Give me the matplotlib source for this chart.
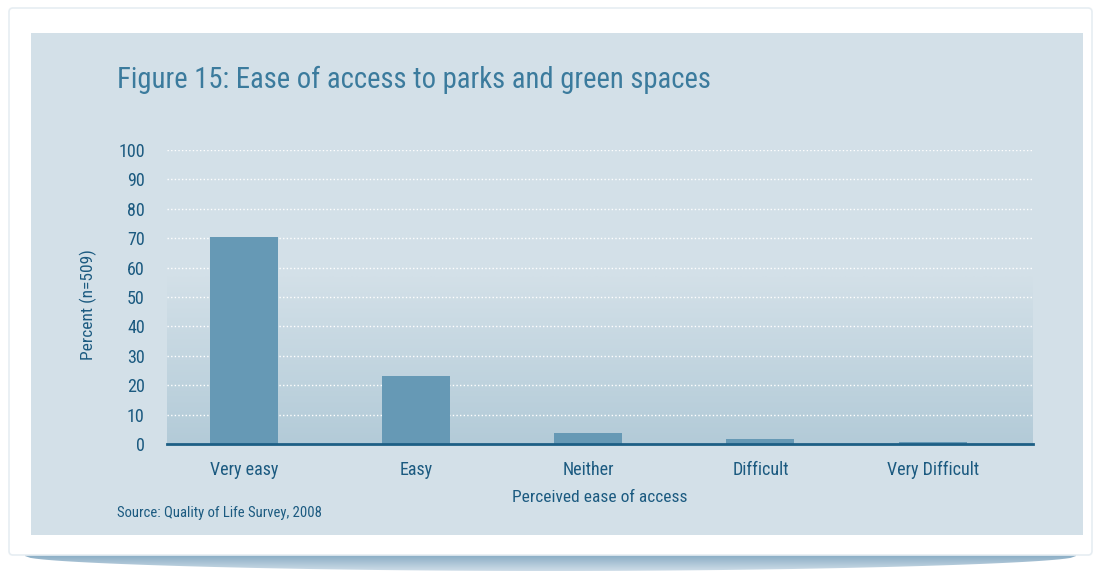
import numpy as np
import matplotlib
matplotlib.use("Agg")
import matplotlib.pyplot as plt
from matplotlib.patches import Rectangle, FancyBboxPatch, Polygon
from matplotlib.colors import LinearSegmentedColormap
from matplotlib import font_manager

# ---- data ----
categories = ["Very easy", "Easy", "Neither", "Difficult", "Very Difficult"]
percent = [70.5, 23.0, 3.7, 1.7, 0.7]
y_ticks = [0, 10, 20, 30, 40, 50, 60, 70, 80, 90, 100]

title = "Figure 15: Ease of access to parks and green spaces"
y_label = "Percent (n=509)"
x_label = "Perceived ease of access"
source = "Source: Quality of Life Survey, 2008"

# ---- styling ----
names = {f.name for f in font_manager.fontManager.ttflist}
family = [n for n in ["Liberation Sans Narrow", "DejaVu Sans Condensed", "Roboto Condensed",
                      "Liberation Sans", "DejaVu Sans"] if n in names] or ["DejaVu Sans"]
plt.rcParams["font.family"] = family

panel_color = "#d3e0e8"
title_color = "#3b7b9d"
text_color = "#1b5a80"
bar_color = "#6699b5"
axis_color = "#1d5f85"

W, H = 1101, 571
fig = plt.figure(figsize=(W / 100, H / 100), dpi=100, facecolor="white")

# soft shadow under the card
sh = fig.add_axes([0, 0, 1, 1], zorder=-3)
sh.set_xlim(0, W); sh.set_ylim(H, 0); sh.axis("off")
xs = np.linspace(25, 1076, 200)
t = (xs - 25) / (1076 - 25)
lower = 556 + 15 * np.sin(np.pi * t) ** 0.5
poly = np.vstack([np.column_stack([xs, np.full_like(xs, 548)]),
                  np.column_stack([xs[::-1], lower[::-1]])])
clip = Polygon(poly, closed=True, facecolor="none", edgecolor="none")
sh.add_patch(clip)
grad = np.linspace(0, 1, 64)[:, None] * np.ones((1, 2))
cmap_sh = LinearSegmentedColormap.from_list("sh", ["#6a96b4", "#d2e0ea"])
im = sh.imshow(grad, extent=(25, 1076, 572, 548), cmap=cmap_sh, aspect="auto", zorder=1)
im.set_clip_path(clip)

# white card and the tinted panel
sh.add_patch(FancyBboxPatch((9, 8), 1083, 547, boxstyle="round,pad=0,rounding_size=4",
                            facecolor="white", edgecolor="#e6edf2", lw=1.2, zorder=2))
sh.add_patch(Rectangle((31, 33), 1052, 502, facecolor=panel_color, edgecolor="none", zorder=3))

# ---- chart ----
ax = fig.add_axes([167 / W, 127 / H, 866 / W, 294 / H], zorder=1)
ax.patch.set_alpha(0)
x = np.arange(len(categories))
ax.set_xlim(-0.446, 4.583)
ax.set_ylim(0, 100)

# gradient in the lower part of the plot area
cmap_bg = LinearSegmentedColormap.from_list("bg", ["#b3cbd8", panel_color])
g = np.linspace(0, 1, 128)[:, None] * np.ones((1, 2))
ax.imshow(g, extent=(-0.446, 4.583, 0, 57), origin="lower", cmap=cmap_bg,
          aspect="auto", zorder=0)

for v in y_ticks[1:]:
    ax.axhline(v, color="white", lw=1.0, ls=(0, (1, 1.6)), zorder=1)

ax.bar(x, percent, width=0.395, color=bar_color, zorder=2)

for s in ["top", "right", "left"]:
    ax.spines[s].set_visible(False)
ax.spines["bottom"].set_color(axis_color)
ax.spines["bottom"].set_linewidth(2)
ax.spines["bottom"].set_zorder(3)

ax.set_yticks(y_ticks)
ax.set_yticklabels([str(v) for v in y_ticks], fontsize=13, color=text_color)
ax.set_xticks(x)
ax.set_xticklabels(categories, fontsize=13, color=text_color)
ax.tick_params(axis="y", length=0, pad=16)
ax.tick_params(axis="x", length=0, pad=12)

ax.set_xlabel(x_label, fontsize=12.5, color=text_color, labelpad=8)
fig.text(88 / W, 1 - 305 / H, y_label, rotation=90, ha="center", va="center",
         fontsize=12.5, color=text_color)

fig.text(117 / W, 1 - 80 / H, title, ha="left", va="center", fontsize=20.6, color=title_color)
fig.text(117 / W, 1 - 513 / H, source, ha="left", va="center", fontsize=10.5, color=text_color)

fig.savefig("out.png", dpi=100, facecolor="white")
